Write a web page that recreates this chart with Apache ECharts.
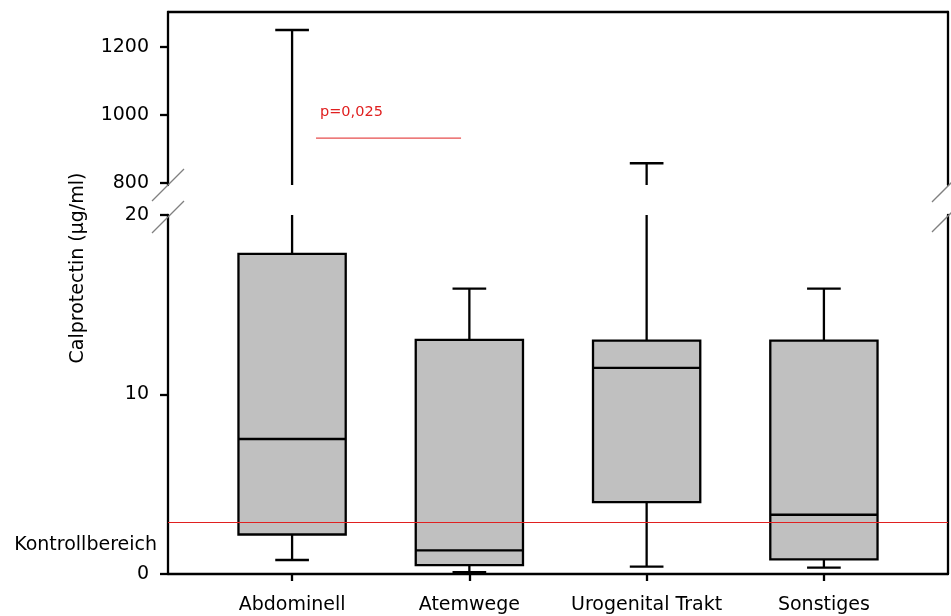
<!DOCTYPE html>
<html>
<head>
<meta charset="utf-8">
<script src="https://cdn.jsdelivr.net/npm/echarts@6/dist/echarts.min.js"></script>
<style>
html,body{margin:0;padding:0;background:#fff;}
#chart{width:951px;height:616px;}
</style>
</head>
<body>
<div id="chart"></div>
<script>
// ---- data ----
const categories = ['Abdominell', 'Atemwege', 'Urogenital Trakt', 'Sonstiges'];
const lowerWhisker = [0.78, 0.11, 0.41, 0.35];
const q1Values = [2.2, 0.5, 4.0, 0.81];
const medianValues = [7.52, 1.32, 11.48, 3.3];
const q3Values = [17.83, 13.04, 13.0, 13.0];
const upperWhisker = [1250, 15.9, 858, 15.9];
const controlValue = 2.9;
const lowerTicks = [0, 10, 20];
const upperTicks = [800, 1000, 1200];
const pLabel = 'p=0,025';
const pLineX = [1.135, 1.953];
const pLineY = 932;

// ---- build ----
const positions = categories.map((c, i) => i + 1);
const boxData = categories.map((c, i) => [positions[i], lowerWhisker[i], q1Values[i], medianValues[i], q3Values[i], upperWhisker[i]]);

const FONT = 'DejaVu Sans';
const BOX_W = 0.605;
const CAP_W = 0.19;
const LW = 2.3;

function renderBox(params, api) {
  const x = api.value(0);
  const lo = api.coord([x, api.value(1)]);
  const q1 = api.coord([x, api.value(2)]);
  const med = api.coord([x, api.value(3)]);
  const q3 = api.coord([x, api.value(4)]);
  const hi = api.coord([x, api.value(5)]);
  const cx = q1[0];
  const hw = api.size([BOX_W, 0])[0] / 2;
  const cw = api.size([CAP_W, 0])[0] / 2;
  const ls = {stroke: '#000', lineWidth: LW};
  return {
    type: 'group',
    children: [
      {type: 'line', shape: {x1: cx, y1: q3[1], x2: cx, y2: hi[1]}, style: ls},
      {type: 'line', shape: {x1: cx - cw, y1: hi[1], x2: cx + cw, y2: hi[1]}, style: ls},
      {type: 'line', shape: {x1: cx, y1: q1[1], x2: cx, y2: lo[1]}, style: ls},
      {type: 'line', shape: {x1: cx - cw, y1: lo[1], x2: cx + cw, y2: lo[1]}, style: ls},
      {type: 'rect', shape: {x: cx - hw, y: q3[1], width: hw * 2, height: q1[1] - q3[1]},
        style: {fill: '#c0c0c0', stroke: '#000', lineWidth: LW}},
      {type: 'line', shape: {x1: cx - hw, y1: med[1], x2: cx + hw, y2: med[1]}, style: ls}
    ]
  };
}

const axisLineStyle = {color: '#000', width: LW};
const labelStyle = {color: '#000', fontFamily: FONT, fontSize: 19};
const plain = v => String(v);

const option = {
  animation: false,
  backgroundColor: '#fff',
  grid: [
    {left: 168, right: 3, top: 12, height: 173},
    {left: 168, right: 3, top: 215, height: 359}
  ],
  xAxis: [
    {gridIndex: 0, type: 'value', min: 0.3, max: 4.7, axisLine: {show: false}, axisTick: {show: false}, axisLabel: {show: false}, splitLine: {show: false}},
    {gridIndex: 0, type: 'value', position: 'top', min: 0.3, max: 4.7, axisLine: {show: true, onZero: false, lineStyle: axisLineStyle}, axisTick: {show: false}, axisLabel: {show: false}, splitLine: {show: false}},
    {gridIndex: 1, type: 'value', min: 0.3, max: 4.7,
      axisLine: {show: true, onZero: false, lineStyle: axisLineStyle},
      axisTick: {show: true, customValues: positions, length: 7, inside: false, lineStyle: {color: '#000', width: LW}},
      axisLabel: Object.assign({show: true, customValues: positions, margin: 22, formatter: v => categories[Math.round(v) - 1] || ''}, labelStyle),
      splitLine: {show: false}}
  ],
  yAxis: [
    {gridIndex: 0, type: 'value', min: 794, max: 1303,
      axisLine: {show: true, onZero: false, lineStyle: axisLineStyle},
      axisTick: {show: true, customValues: upperTicks, length: 8, lineStyle: {color: '#000', width: LW}},
      axisLabel: Object.assign({show: true, customValues: upperTicks, margin: 19, formatter: plain}, labelStyle),
      splitLine: {show: false}},
    {gridIndex: 0, type: 'value', position: 'right', min: 794, max: 1303,
      axisLine: {show: true, onZero: false, lineStyle: axisLineStyle}, axisTick: {show: false}, axisLabel: {show: false}, splitLine: {show: false}},
    {gridIndex: 1, type: 'value', min: 0, max: 20,
      axisLine: {show: true, onZero: false, lineStyle: axisLineStyle},
      axisTick: {show: true, customValues: lowerTicks, length: 8, lineStyle: {color: '#000', width: LW}},
      axisLabel: Object.assign({show: true, customValues: lowerTicks, margin: 19, formatter: plain}, labelStyle),
      splitLine: {show: false}},
    {gridIndex: 1, type: 'value', position: 'right', min: 0, max: 20,
      axisLine: {show: true, onZero: false, lineStyle: axisLineStyle}, axisTick: {show: false}, axisLabel: {show: false}, splitLine: {show: false}}
  ],
  series: [
    {type: 'custom', xAxisIndex: 0, yAxisIndex: 0, clip: true, data: boxData, renderItem: renderBox, z: 3},
    {type: 'custom', xAxisIndex: 2, yAxisIndex: 2, clip: true, data: boxData, renderItem: renderBox, z: 3,
      markLine: {silent: true, symbol: 'none', label: {show: false},
        lineStyle: {color: '#e02020', width: 1, type: 'solid'},
        data: [{yAxis: controlValue}]}},
    {type: 'line', xAxisIndex: 0, yAxisIndex: 0, symbol: 'none', silent: true, z: 4,
      lineStyle: {color: '#e02020', width: 1},
      data: [[pLineX[0], pLineY], [pLineX[1], pLineY]]}
  ],
  graphic: [
    {type: 'line', shape: {x1: 152, y1: 201, x2: 184, y2: 169}, style: {stroke: '#808080', lineWidth: 1.3}, z: 10},
    {type: 'line', shape: {x1: 152, y1: 233, x2: 184, y2: 201}, style: {stroke: '#808080', lineWidth: 1.3}, z: 10},
    {type: 'line', shape: {x1: 932, y1: 202, x2: 966, y2: 168}, style: {stroke: '#808080', lineWidth: 1.3}, z: 10},
    {type: 'line', shape: {x1: 932, y1: 232, x2: 966, y2: 198}, style: {stroke: '#808080', lineWidth: 1.3}, z: 10},
    {type: 'text', x: 78, y: 268, rotation: Math.PI / 2,
      style: {text: 'Calprotectin (µg/ml)', fill: '#000', font: '19px "DejaVu Sans"', textAlign: 'center', textVerticalAlign: 'middle'}},
    {type: 'text', x: 157, y: 545,
      style: {text: 'Kontrollbereich', fill: '#000', font: '19px "DejaVu Sans"', textAlign: 'right', textVerticalAlign: 'middle'}},
    {type: 'text', x: 320, y: 112,
      style: {text: pLabel, fill: '#e02020', font: '14.5px "DejaVu Sans"', textAlign: 'left', textVerticalAlign: 'middle'}}
  ]
};

const chart = echarts.init(document.getElementById('chart'), null, {renderer: 'canvas'});
chart.setOption(option);
</script>
</body>
</html>
